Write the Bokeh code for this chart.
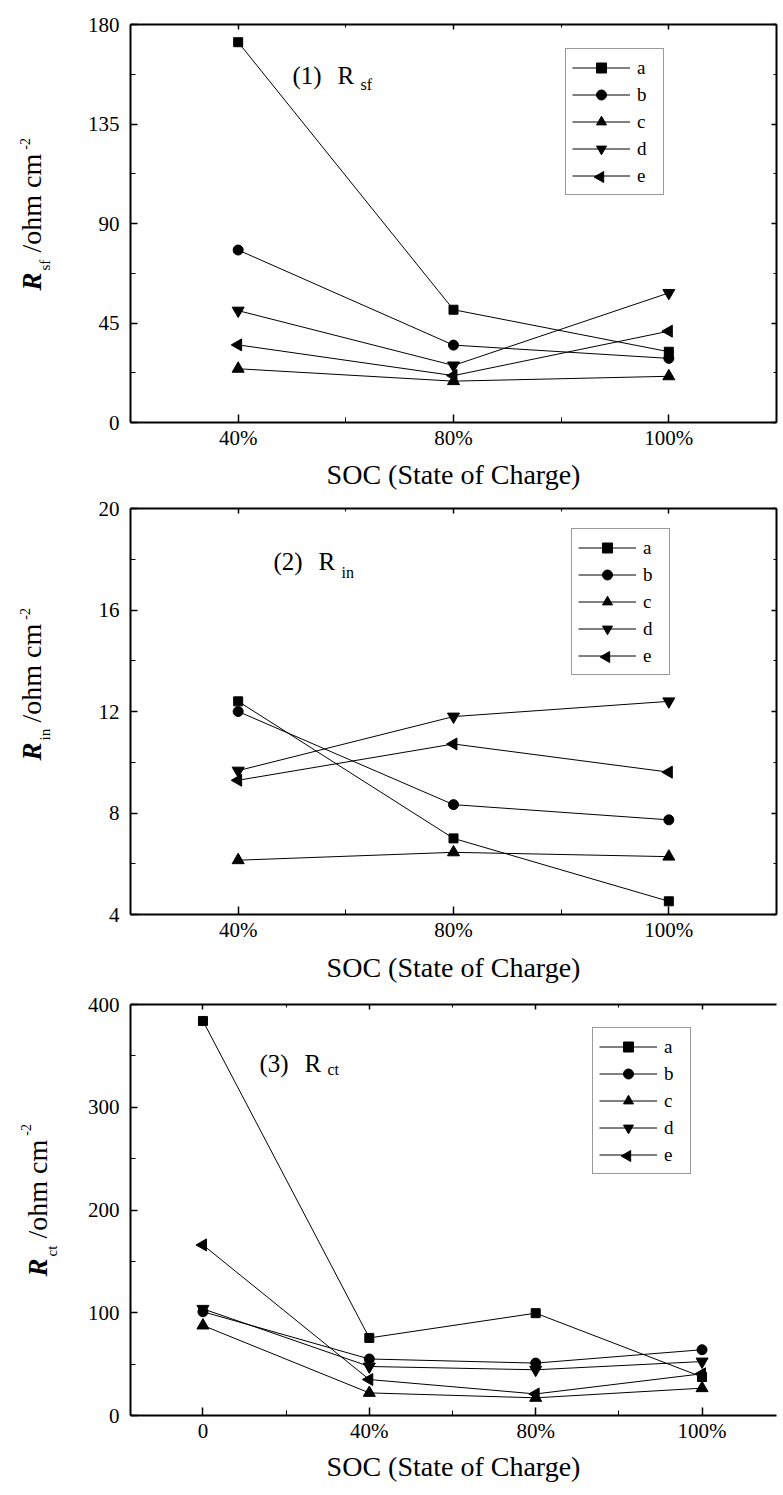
import numpy as np
from bokeh.plotting import figure
from bokeh.models import (FixedTicker, LinearAxis, Range1d, Label,
                          CustomJSTickFormatter)
from bokeh.layouts import column, row
from bokeh.embed import file_html
from bokeh.resources import INLINE

# ---------------- data ----------------
series_names = ["a", "b", "c", "d", "e"]
soc_12 = ["40%", "80%", "100%"]
soc_3 = ["0", "40%", "80%", "100%"]
x_title = "SOC (State of Charge)"

# (1) R_sf
r_sf_a = [172.0, 51.0, 32.0]
r_sf_b = [78.0, 35.0, 29.0]
r_sf_c = [24.3, 18.7, 20.9]
r_sf_d = [50.6, 25.8, 58.6]
r_sf_e = [35.1, 21.2, 41.3]

# (2) R_in
r_in_a = [12.4, 7.0, 4.52]
r_in_b = [12.0, 8.33, 7.73]
r_in_c = [6.14, 6.45, 6.28]
r_in_d = [9.67, 11.8, 12.4]
r_in_e = [9.29, 10.72, 9.61]

# (3) R_ct
r_ct_a = [384.0, 75.5, 99.6, 37.5]
r_ct_b = [101.0, 55.0, 51.0, 64.0]
r_ct_c = [87.6, 22.0, 17.2, 26.6]
r_ct_d = [103.8, 47.7, 44.5, 52.5]
r_ct_e = [166.0, 35.0, 21.0, 40.6]

y1_ticks = [0, 45, 90, 135, 180]
y2_ticks = [4, 8, 12, 16, 20]
y3_ticks = [0, 100, 200, 300, 400]

# ---------------- style ----------------
FONT = "Liberation Serif"
MARKERS = {
    "a": ("square", 0, 9),
    "b": ("circle", 0, 10),
    "c": ("triangle", 0, 12),
    "d": ("inverted_triangle", 0, 12),
    "e": ("triangle", 90, 12),
}
STRIP = 60          # width of the left strip holding the rotated y titles
PW = 783 - STRIP    # width of each panel figure
FL, FR = 130, 776   # frame left / right (page px), shared by the three panels

# legend geometry
L_PAD, L_SP, L_GW, L_GH = 6, 2, 58, 25


def blank_axis(ticks, minor):
    return LinearAxis(ticker=FixedTicker(ticks=ticks, minor_ticks=minor),
                      formatter=CustomJSTickFormatter(code="return ''"),
                      major_label_standoff=0, major_tick_in=5, major_tick_out=0,
                      minor_tick_in=3, minor_tick_out=0,
                      axis_line_width=2, major_tick_line_width=1.5)


def to_data(geo, px, py):
    fl, fr, ft, fb, x0, x1, y0, y1 = geo
    xd = x0 + (px - fl) * (x1 - x0) / (fr - fl)
    yd = y0 + (fb - py) * (y1 - y0) / (fb - ft)
    return xd, yd


def make_panel(cats, series, y_ticks, bt, bb, right_axis, legend_xy, x_std, geo):
    fl, fr, ft, fb, x0, x1, y0, y1 = geo
    n = len(cats)
    xs = list(range(n))
    p = figure(width=PW, height=bt + (fb - ft) + bb,
               x_range=Range1d(x0, x1), y_range=Range1d(y0, y1),
               output_backend="svg", toolbar_location=None,
               min_border_left=FL - STRIP, min_border_right=783 - FR,
               min_border_top=bt, min_border_bottom=bb)
    p.grid.visible = False
    p.outline_line_color = None
    p.background_fill_color = "white"

    x_minor = [i + 0.5 for i in range(-1, n)]
    step = y_ticks[1] - y_ticks[0]
    y_minor = [t + step / 2 for t in y_ticks[:-1]]

    # legend key symbol for "e": Bokeh never rotates legend glyphs, so a
    # left-pointing triangle sits under the (transparent) legend at the key spot
    vx, vy = legend_xy
    box_h = 2 * L_PAD + 5 * L_GH + 4 * L_SP
    box_top = fb - vy - box_h
    cx = fl + vx + L_PAD + L_GW / 2
    cy = box_top + L_PAD + 4 * (L_GH + L_SP) + L_GH / 2
    kx, ky = to_data(geo, cx, cy)
    p.scatter([kx], [ky], marker="triangle", angle=90, angle_units="deg",
              size=11, fill_color="black", line_color="black")

    for name, ys in zip(series_names, series):
        mk, ang, sz = MARKERS[name]
        p.line(xs, ys, line_color="black", line_width=1, legend_label=name)
        kw = {} if name == "e" else {"legend_label": name}
        p.scatter(xs, ys, marker=mk, size=sz, angle=ang, angle_units="deg",
                  fill_color="black", line_color="black", **kw)

    xa = p.xaxis[0]
    xa.ticker = FixedTicker(ticks=xs, minor_ticks=x_minor)
    xa.major_label_overrides = {i: c for i, c in enumerate(cats)}
    xa.axis_line_width = 2
    xa.major_tick_in = 8
    xa.major_tick_out = 0
    xa.minor_tick_in = 5
    xa.minor_tick_out = 0
    xa.major_tick_line_width = 1.5
    xa.major_label_standoff = 3
    xa.major_label_text_font = FONT
    xa.major_label_text_font_size = "21px"
    xa.major_label_text_color = "black"
    xa.axis_label = x_title
    xa.axis_label_text_font = FONT
    xa.axis_label_text_font_size = "28px"
    xa.axis_label_text_font_style = "normal"
    xa.axis_label_text_color = "black"
    xa.axis_label_standoff = x_std

    ya = p.yaxis[0]
    ya.ticker = FixedTicker(ticks=y_ticks, minor_ticks=y_minor)
    ya.axis_line_width = 2
    ya.major_tick_in = 7
    ya.major_tick_out = 0
    ya.minor_tick_in = 5
    ya.minor_tick_out = 0
    ya.major_tick_line_width = 1.5
    ya.major_label_standoff = 11
    ya.major_label_text_font = FONT
    ya.major_label_text_font_size = "21px"
    ya.major_label_text_color = "black"

    p.add_layout(blank_axis(xs, x_minor), "above")
    if right_axis:
        p.add_layout(blank_axis(y_ticks, y_minor), "right")

    leg = p.legend[0]
    leg.location = legend_xy
    leg.margin = 0
    leg.padding = L_PAD
    leg.spacing = L_SP
    leg.glyph_width = L_GW
    leg.glyph_height = L_GH
    leg.label_height = L_GH
    leg.label_standoff = 7
    leg.label_text_font = FONT
    leg.label_text_font_size = "19px"
    leg.label_text_color = "black"
    leg.border_line_color = "#333333"
    leg.border_line_width = 1
    leg.background_fill_alpha = 0.0
    return p


def add_text(p, geo, px, py, text, size, style="normal"):
    xd, yd = to_data(geo, px, py)
    p.add_layout(Label(x=xd, y=yd, text=text, text_font=FONT,
                       text_font_size=f"{size}px", text_font_style=style,
                       text_align="left", text_baseline="middle",
                       text_color="black"))


def panel_title(p, geo, x, yc, ys, num, sub):
    add_text(p, geo, x, yc, f"({num})", 25)
    add_text(p, geo, x + 45, yc, "R", 25)
    add_text(p, geo, x + 68, ys, sub, 16)


# ---------------- panel 1 ----------------
geo1 = (FL, FR, 24, 422, -0.5, 2.5, 0, 180)
p1 = make_panel(soc_12, [r_sf_a, r_sf_b, r_sf_c, r_sf_d, r_sf_e], y1_ticks,
                24, 73, True, (435, 227), 6, geo1)
panel_title(p1, geo1, 292, 75, 84, 1, "sf")

# ---------------- panel 2 ----------------
geo2 = (FL, FR, 508, 914, -0.5, 2.5, 4, 20)
p2 = make_panel(soc_12, [r_in_a, r_in_b, r_in_c, r_in_d, r_in_e], y2_ticks,
                13, 76, True, (441, 239), 7, geo2)
panel_title(p2, geo2, 273, 561, 572, 2, "in")

# ---------------- panel 3 ----------------
x3_start = -(202.5 - FL) / 166.5
x3_end = 3 + (FR - 701.5) / 166.5
geo3 = (FL, FR, 1004, 1415, x3_start, x3_end, 0, 400)
p3 = make_panel(soc_3, [r_ct_a, r_ct_b, r_ct_c, r_ct_d, r_ct_e], y3_ticks,
                14, 80, False, (462, 241), 5, geo3)
panel_title(p3, geo3, 259, 1063, 1069, 3, "ct")

# ---------------- left strip with the rotated y titles ----------------
S_TOP, S_BOT = 24, 1415
strip = figure(width=STRIP, height=1495, x_range=Range1d(0, STRIP),
               y_range=Range1d(S_BOT, S_TOP), x_axis_type=None, y_axis_type=None,
               output_backend="svg", toolbar_location=None,
               min_border_left=0, min_border_right=0,
               min_border_top=S_TOP, min_border_bottom=1495 - S_BOT)
strip.outline_line_color = None
strip.grid.visible = False


def vtext(x, y, text, size, style="normal"):
    strip.add_layout(Label(x=x, y=y, text=text, text_font=FONT,
                           text_font_size=f"{size}px", text_font_style=style,
                           angle=90, angle_units="deg", text_align="left",
                           text_baseline="middle", text_color="black"))


def y_title(cx, start_y, sub, sub_cx, sup_cx, size=28):
    vtext(cx, start_y, "R", 27, "bold italic")
    vtext(sub_cx, start_y - 20, sub, 15)
    s2 = start_y - 38
    vtext(cx, s2, "/ohm cm", size)
    vtext(sup_cx, s2 - 3.528 * size - 4, "-2", 14)


y_title(31, 290, "sf", 44, 24)
y_title(31, 760, "in", 44, 24)
y_title(37, 1276, "ct", 51, 25)

layout = row(strip, column(p1, p2, p3, spacing=0), spacing=0)
open("out.html", "w").write(file_html(layout, INLINE))
